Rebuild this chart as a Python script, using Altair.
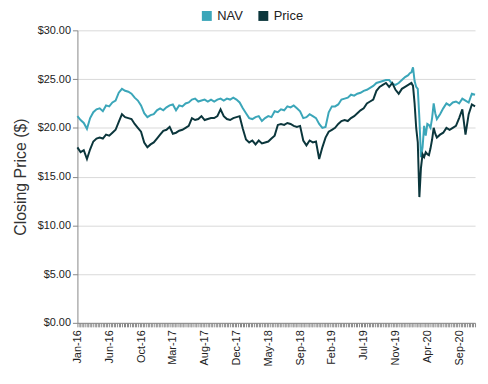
import altair as alt
import pandas as pd

weeks = list(range(0, 208, 2)) + list(range(208, 227)) + list(range(228, 252, 2))

nav = [21.2, 20.8, 20.5, 19.9, 21.0, 21.6, 21.9, 22.0, 21.7, 22.3,
       22.2, 22.6, 22.8, 23.6, 24.0, 23.8, 23.7, 23.5, 23.1, 22.8,
       22.3, 21.5, 21.1, 21.3, 21.4, 21.8, 22.0, 21.8, 22.1, 22.3,
       22.4, 21.8, 22.3, 22.2, 22.5, 22.6, 22.9, 23.0, 22.7, 22.8,
       22.9, 22.7, 22.9, 22.7, 22.9, 23.0, 22.8, 23.0, 22.9, 23.1,
       22.9, 22.6, 22.0, 21.5, 21.0, 20.9, 21.1, 21.2, 20.7, 21.0,
       21.2, 21.1, 21.7, 21.6, 21.9, 21.8, 22.2, 22.1, 22.3, 22.0,
       21.7, 21.0, 21.1, 21.4, 21.2, 21.0, 20.4, 20.0, 20.1, 21.6,
       22.2, 22.2, 22.4, 22.9, 23.0, 23.1, 23.4, 23.3, 23.5, 23.6,
       23.8, 23.9, 24.1, 24.3, 24.6, 24.7, 24.8, 24.9, 24.9, 24.5,
       24.4, 24.6, 24.9, 25.2,
       25.4, 25.6, 25.7, 26.2, 24.8, 24.2, 24.0, 21.0, 17.0, 18.0,
       20.2, 19.2, 20.4, 20.3, 20.0, 21.0, 22.5, 21.5, 20.9,
       21.4, 22.0, 22.5, 22.3, 22.6, 22.7, 22.5, 23.0, 22.8, 22.6,
       23.5, 23.4]

price = [18.0, 17.5, 17.7, 16.8, 17.8, 18.6, 18.9, 19.0, 18.9, 19.3,
         19.2, 19.5, 19.8, 20.6, 21.4, 21.1, 21.0, 20.9, 20.4, 20.0,
         19.6, 18.5, 18.0, 18.3, 18.5, 18.9, 19.3, 19.7, 19.8, 20.1,
         19.4, 19.5, 19.7, 19.8, 20.0, 20.2, 21.0, 20.8, 20.9, 21.2,
         20.8, 20.9, 21.0, 21.0, 21.2, 21.9, 21.2, 20.9, 20.8, 21.0,
         21.1, 21.2, 19.9, 18.8, 18.5, 18.7, 18.3, 18.7, 18.4, 18.5,
         18.6, 18.9, 19.2, 20.3, 20.4, 20.3, 20.5, 20.4, 20.2, 20.1,
         20.2, 18.7, 18.2, 18.7, 18.5, 18.6, 16.8, 18.0, 19.0, 19.6,
         19.8, 20.0, 20.4, 20.7, 20.8, 20.7, 21.0, 21.2, 21.5, 21.8,
         22.0, 22.5, 22.7, 22.9, 23.8, 24.2, 24.4, 24.6, 24.2, 24.6,
         23.9, 23.5, 24.0, 24.2,
         24.4, 24.5, 24.6, 24.3, 22.5, 20.0, 18.5, 12.9, 15.9, 17.3,
         17.0, 17.5, 17.3, 17.2, 17.9, 18.8, 20.0, 19.4, 19.0,
         19.3, 19.5, 20.0, 19.8, 20.0, 20.2, 21.0, 21.9, 19.3, 21.4,
         22.4, 22.2]

tick_labels = ["Jan-16", "Jun-16", "Oct-16", "Mar-17", "Aug-17", "Dec-17",
               "May-18", "Sep-18", "Feb-19", "Jul-19", "Nov-19", "Apr-20", "Sep-20"]
label_step = 20
n_weeks = 251

series_names = ["NAV", "Price"]
series_colors = ["#3ba6b9", "#0b363c"]

df = pd.concat([
    pd.DataFrame({"week": weeks, "value": nav, "series": "NAV"}),
    pd.DataFrame({"week": weeks, "value": price, "series": "Price"}),
])

label_array = "[" + ",".join("'" + t + "'" for t in tick_labels) + "]"
label_expr = f"datum.value % {label_step} == 0 ? {label_array}[datum.value / {label_step}] : ''"

font = "Liberation Sans"

chart = alt.Chart(df).mark_line(strokeWidth=2).encode(
    x=alt.X("week:Q",
            scale=alt.Scale(domain=[0, n_weeks - 1], nice=False, zero=False),
            axis=alt.Axis(values=list(range(0, n_weeks)), labelExpr=label_expr,
                          labelAngle=-90, labelOverlap=False, labelFlush=False,
                          grid=False, title=None, tickSize=4, tickColor="#888888",
                          domainColor="#888888", labelFont=font, labelFontSize=11,
                          labelColor="#222222", labelPadding=3)),
    y=alt.Y("value:Q",
            scale=alt.Scale(domain=[0, 30], nice=False),
            axis=alt.Axis(values=[0, 5, 10, 15, 20, 25, 30], format="$.2f",
                          title="Closing Price ($)", titleFont=font, titleFontSize=16,
                          titleFontWeight="normal", titleColor="#333333", titlePadding=9,
                          labelFont=font, labelFontSize=11, labelColor="#222222",
                          gridColor="#d9d9d9", domainColor="#888888",
                          tickColor="#888888", tickSize=5)),
    color=alt.Color("series:N",
                    scale=alt.Scale(domain=series_names, range=series_colors),
                    legend=alt.Legend(title=None, orient="none", direction="horizontal",
                                      legendX=124, legendY=-21, symbolType="square",
                                      symbolSize=25, symbolStrokeWidth=5,
                                      labelFont=font, labelFontSize=13,
                                      labelColor="#222222", columnPadding=8)),
).properties(
    width=401, height=295,
    padding={"left": 4, "top": 0, "right": 0, "bottom": 0},
).configure_view(stroke=None)

chart.save("out.html", embed_options={"renderer": "svg", "actions": False})
